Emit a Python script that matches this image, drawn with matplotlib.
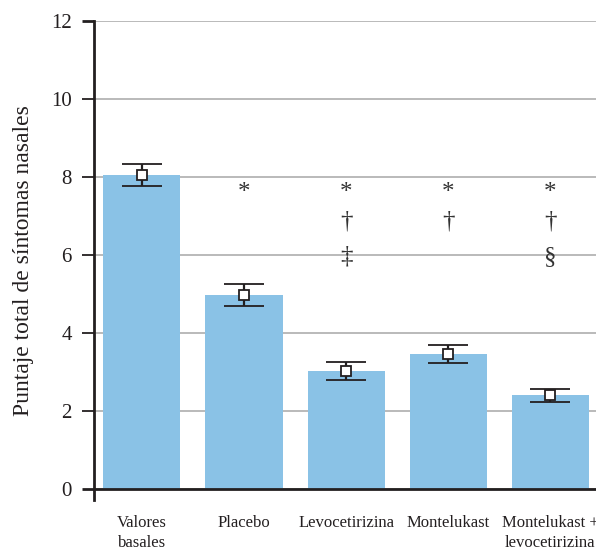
import numpy as np
import matplotlib
matplotlib.use("Agg")
import matplotlib.pyplot as plt

plt.rcParams['font.family'] = ['Liberation Serif', 'DejaVu Serif']

# data
groups = ["Valores\nbasales", "Placebo", "Levocetirizina", "Montelukast",
          "Montelukast +\nlevocetirizina"]
means = [8.05, 4.98, 3.03, 3.46, 2.40]
errs = [0.28, 0.28, 0.23, 0.23, 0.16]
marks = [[], ["*"], ["*", "\u2020", "\u2021"], ["*", "\u2020"],
         ["*", "\u2020", "\u00a7"]]
mark_levels = [7.6, 6.85, 5.95]

bar_color = "#8AC2E6"
grid_color = "#b4b4b4"
axis_color = "#231f20"


def main():
    fig = plt.figure(figsize=(5.96, 5.5), dpi=100)
    ax = fig.add_axes([94 / 596, 50 / 550, 502 / 596, 479 / 550])

    x = np.arange(len(groups))
    ax.bar(x, means, width=0.755, color=bar_color, zorder=2)
    ax.errorbar(x, means, yerr=errs, fmt="s", mfc="white", mec=axis_color,
                mew=1.3, ms=7, ecolor=axis_color, elinewidth=1.6,
                capsize=14.5, capthick=1.8, zorder=4)

    for xi, sym in zip(x, marks):
        for s, lev in zip(sym, mark_levels):
            ax.text(xi, lev, s, ha="center", va="center", fontsize=18,
                    color="#333333")

    ax.set_xlim(-0.47, 4.45)
    ax.set_ylim(-0.28, 12)
    ax.set_yticks([0, 2, 4, 6, 8, 10, 12])
    ax.yaxis.grid(True, color=grid_color, lw=1.3, zorder=0)
    ax.set_axisbelow(True)

    for side in ["top", "right"]:
        ax.spines[side].set_visible(False)
    ax.spines["left"].set_color(axis_color)
    ax.spines["left"].set_linewidth(2)
    ax.spines["bottom"].set_position(("data", 0))
    ax.spines["bottom"].set_color(axis_color)
    ax.spines["bottom"].set_linewidth(2)

    ax.tick_params(axis="y", length=9, width=1.3, pad=7, labelsize=15,
                   colors=axis_color)
    for tick, val in zip(ax.yaxis.get_major_ticks(), ax.get_yticks()):
        if val not in (0, 12):
            tick.tick1line.set_color(grid_color)
        else:
            tick.tick1line.set_markeredgewidth(2)

    ax.set_xticks(x)
    ax.set_xticklabels(groups, fontsize=12, linespacing=1.3)
    ax.tick_params(axis="x", length=0, pad=19, colors=axis_color)

    ax.set_ylabel("Puntaje total de síntomas nasales", fontsize=17,
                  color=axis_color, labelpad=12)

    fig.savefig("out.png", dpi=100)


if __name__ == '__main__':
    main()
